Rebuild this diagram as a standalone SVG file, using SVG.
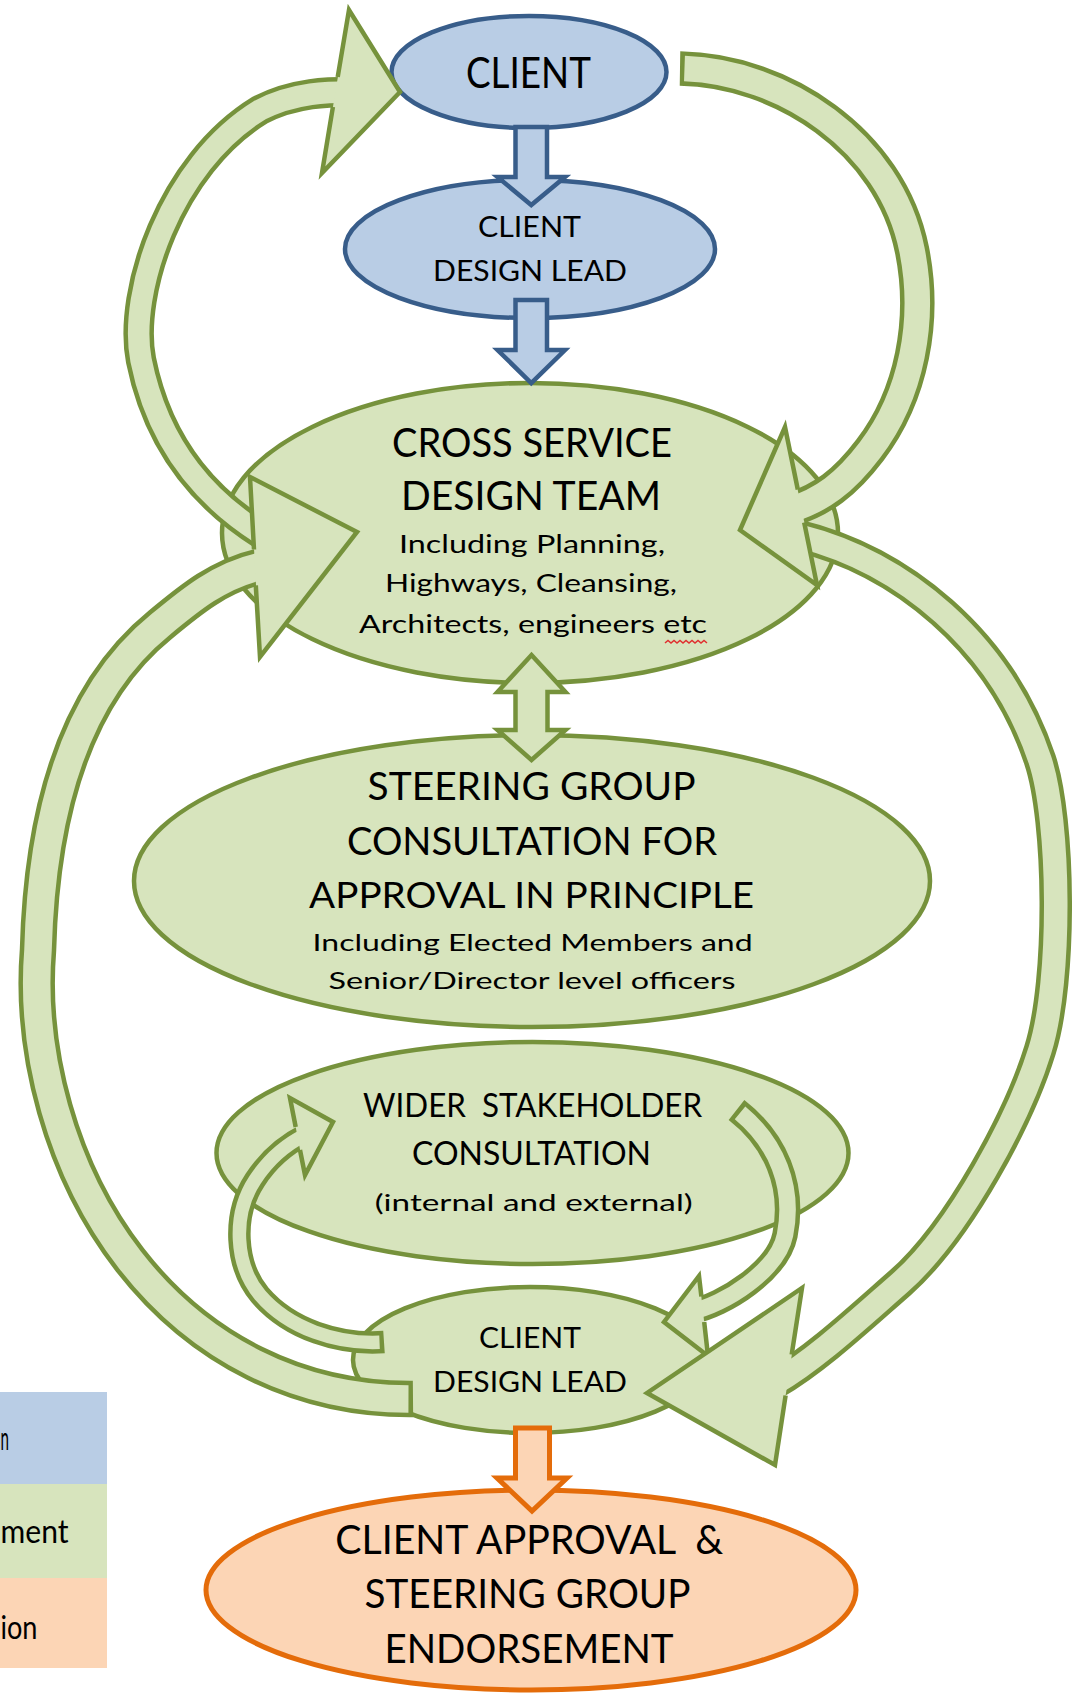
<svg xmlns="http://www.w3.org/2000/svg" width="1072" height="1695" viewBox="0 0 1072 1695">
<style>
.t{font-family:Lato,"Open Sans","Liberation Sans",sans-serif;fill:#000;text-anchor:middle}
.ts{font-family:Lato,"Open Sans","Liberation Sans",sans-serif;fill:#000}
.bl{fill:#b9cde5;stroke:#385d8a;stroke-width:4.5;stroke-linejoin:miter}
.gr{fill:#d7e4bd;stroke:#76923c;stroke-width:4.5;stroke-linejoin:miter}
.or{fill:#fcd5b5;stroke:#e46c0a;stroke-width:5;stroke-linejoin:miter}
.so{fill:none;stroke:#76923c;stroke-linecap:butt}
.si{fill:none;stroke:#d7e4bd;stroke-linecap:butt;stroke-dasharray:0 4.5 10000}
.hf{fill:#d7e4bd;stroke:none}
.ho{fill:none;stroke:#76923c;stroke-width:4.5;stroke-linejoin:miter;stroke-miterlimit:10}
</style>
<rect x="0" y="0" width="1072" height="1695" fill="#ffffff"/>

<g id="legend">
<rect x="0" y="1392" width="107" height="92" fill="#b9cde5"/>
<rect x="0" y="1484" width="107" height="94" fill="#d7e4bd"/>
<rect x="0" y="1578" width="107" height="90" fill="#fcd5b5"/>
<text class="ts" x="0.5" y="1450" font-size="33" textLength="8.5" lengthAdjust="spacingAndGlyphs">n</text>
<text class="ts" x="0.5" y="1543" font-size="33" textLength="68" lengthAdjust="spacingAndGlyphs">ment</text>
<text class="ts" x="0.5" y="1639" font-size="33" textLength="37" lengthAdjust="spacingAndGlyphs">ion</text>
</g>

<g id="node-client">
<ellipse class="bl" cx="529" cy="72" rx="137.5" ry="56"/>
<text class="t" x="528.5" y="88" font-size="42" textLength="125" lengthAdjust="spacingAndGlyphs">CLIENT</text>
</g>

<g id="node-client-design-lead">
<ellipse class="bl" cx="530" cy="249" rx="185" ry="69"/>
<text class="t" x="529.5" y="237" font-size="29" textLength="103" lengthAdjust="spacingAndGlyphs">CLIENT</text>
<text class="t" x="530" y="281" font-size="29" textLength="194" lengthAdjust="spacingAndGlyphs">DESIGN LEAD</text>
</g>

<g id="node-cross-service">
<ellipse class="gr" cx="530" cy="533" rx="308" ry="150"/>
<text class="t" x="532" y="457" font-size="41" textLength="280" lengthAdjust="spacingAndGlyphs">CROSS SERVICE</text>
<text class="t" x="531" y="510" font-size="41" textLength="260" lengthAdjust="spacingAndGlyphs">DESIGN TEAM</text>
<text class="t" x="532" y="553" font-size="25" textLength="266" lengthAdjust="spacingAndGlyphs">Including Planning,</text>
<text class="t" x="531" y="592" font-size="25" textLength="292" lengthAdjust="spacingAndGlyphs">Highways, Cleansing,</text>
<text class="t" x="533" y="633" font-size="25" textLength="348" lengthAdjust="spacingAndGlyphs">Architects, engineers etc</text>
<polyline fill="none" stroke="#e03030" stroke-width="1.5" points="665,643 668,640.5 671,643 674,640.5 677,643 680,640.5 683,643 686,640.5 689,643 692,640.5 695,643 698,640.5 701,643 704,640.5 707,643"/>
</g>

<g id="node-steering-group">
<ellipse class="gr" cx="532" cy="881" rx="398" ry="146"/>
<text class="t" x="531.6" y="800" font-size="38" textLength="328" lengthAdjust="spacingAndGlyphs">STEERING GROUP</text>
<text class="t" x="532" y="855" font-size="38" textLength="370" lengthAdjust="spacingAndGlyphs">CONSULTATION FOR</text>
<text class="t" x="531.6" y="908" font-size="37" textLength="445" lengthAdjust="spacingAndGlyphs">APPROVAL IN PRINCIPLE</text>
<text class="t" x="532.6" y="951" font-size="24" textLength="440" lengthAdjust="spacingAndGlyphs">Including Elected Members and</text>
<text class="t" x="532" y="989" font-size="24" textLength="407" lengthAdjust="spacingAndGlyphs">Senior/Director level officers</text>
</g>

<g id="node-wider-stakeholder">
<ellipse class="gr" cx="532.5" cy="1153" rx="316" ry="111"/>
<text class="t" x="532.6" y="1117" font-size="33" textLength="339" lengthAdjust="spacingAndGlyphs" xml:space="preserve">WIDER  STAKEHOLDER</text>
<text class="t" x="531.5" y="1165" font-size="33" textLength="239" lengthAdjust="spacingAndGlyphs">CONSULTATION</text>
<text class="t" x="533.7" y="1211" font-size="24" textLength="318" lengthAdjust="spacingAndGlyphs">(internal and external)</text>
</g>

<g id="node-client-design-lead-2">
<ellipse class="gr" cx="530" cy="1360" rx="177" ry="73"/>
<text class="t" x="530" y="1348" font-size="29" textLength="102" lengthAdjust="spacingAndGlyphs">CLIENT</text>
<text class="t" x="530" y="1392" font-size="29" textLength="194" lengthAdjust="spacingAndGlyphs">DESIGN LEAD</text>
</g>

<g id="node-client-approval">
<ellipse class="or" cx="531" cy="1590" rx="325" ry="100"/>
<text class="t" x="529.2" y="1554" font-size="40" textLength="388" lengthAdjust="spacingAndGlyphs" xml:space="preserve">CLIENT APPROVAL  &amp;</text>
<text class="t" x="527.5" y="1608" font-size="40" textLength="326" lengthAdjust="spacingAndGlyphs">STEERING GROUP</text>
<text class="t" x="529" y="1663" font-size="40" textLength="289" lengthAdjust="spacingAndGlyphs">ENDORSEMENT</text>
</g>

<g id="connectors">
<polygon class="bl" stroke-width="4" points="515.5,127 547,127 547,177 565,177 531.25,205 497.5,177 515.5,177"/>
<polygon class="bl" stroke-width="4" points="515.5,300 547,300 547,350 565,350 531.25,383 497.5,350 515.5,350"/>
<polygon class="gr" stroke-width="4" points="531.5,655 565.5,692 547.5,692 547.5,730 565.5,730 531.5,760 497.5,730 515.5,730 515.5,692 497.5,692"/>
<polygon class="or" stroke-width="4" points="515.5,1428 549.5,1428 549.5,1478 567,1478 532,1511 497,1478 515.5,1478"/>

<g id="arrow-design-team-to-client">
<path class="so" stroke-width="30.5" d="M263,535 C215,505 160,455 141,360 C128,293 170,165 260,110 C295,92 330,92 352,92"/>
<path class="si" stroke-width="21.5" d="M263,535 C215,505 160,455 141,360 C128,293 170,165 260,110 C295,92 330,92 352,92"/>
<polygon class="hf" points="349,10 400,92 322,173"/>
<polyline class="ho" points="337.7,77 349,10 400,92 322,173 332.9,107"/>
</g>

<g id="arrow-lead-to-design-team">
<path class="so" stroke-width="36.5" d="M413,1399 C300,1400 200,1350 130,1260 C60,1170 30,1050 38,950 C42,800 80,690 160,625 C190,600 220,575 262,566"/>
<path class="si" stroke-width="27.5" d="M413,1399 C300,1400 200,1350 130,1260 C60,1170 30,1050 38,950 C42,800 80,690 160,625 C190,600 220,575 262,566"/>
<polygon class="hf" points="250,477 357,532 260,657"/>
<polyline class="ho" points="254,549.5 250,477 357,532 260,657 255.8,585.5"/>
</g>

<g id="arrow-lead-to-wider">
<path class="so" stroke-width="22.5" d="M384,1342 C340,1345 290,1330 260,1295 C235,1265 232,1215 255,1180 C268,1160 285,1145 305,1135"/>
<path class="si" stroke-width="13.5" d="M384,1342 C340,1345 290,1330 260,1295 C235,1265 232,1215 255,1180 C268,1160 285,1145 305,1135"/>
<polygon class="hf" points="290,1098 333,1122 305,1175"/>
<polyline class="ho" points="295.7,1127 290,1098 333,1122 305,1175 300,1150"/>
</g>

<g id="arrow-wider-to-lead">
<path class="so" stroke-width="25.5" d="M736.5,1110 C775,1140 795,1185 785,1235 C778,1270 725,1305 690,1312"/>
<path class="si" stroke-width="16.5" d="M736.5,1110 C775,1140 795,1185 785,1235 C778,1270 725,1305 690,1312"/>
<polygon class="hf" points="699,1276 664,1322 708,1356"/>
<polyline class="ho" points="701.4,1296.5 699,1276 664,1322 708,1356 704.2,1322"/>
</g>

<g id="arrow-design-team-to-lead">
<path class="so" stroke-width="32.5" d="M795,535 C900,560 1000,640 1040,760 C1060,820 1062,980 1040,1050 C1020,1115 960,1230 900,1283 C860,1318 815,1360 775,1383"/>
<path class="si" stroke-width="23.5" d="M795,535 C900,560 1000,640 1040,760 C1060,820 1062,980 1040,1050 C1020,1115 960,1230 900,1283 C860,1318 815,1360 775,1383"/>
<polygon class="hf" points="802,1288 647,1393 775,1465"/>
<polyline class="ho" points="791.7,1354.5 802,1288 647,1393 775,1465 785.6,1395.5"/>
</g>

<g id="arrow-client-to-design-team">
<path class="so" stroke-width="34.5" d="M680,68.5 C780,70 890,140 912,250 C926,320 912,395 870,450 C845,483 822,500 790,510"/>
<path class="si" stroke-width="25.5" d="M680,68.5 C780,70 890,140 912,250 C926,320 912,395 870,450 C845,483 822,500 790,510"/>
<polygon class="hf" points="785,427 740,530 817,585"/>
<polyline class="ho" points="797.8,489.5 785,427 740,530 817,585 804.2,522.5"/>
</g>
</g>
</svg>
